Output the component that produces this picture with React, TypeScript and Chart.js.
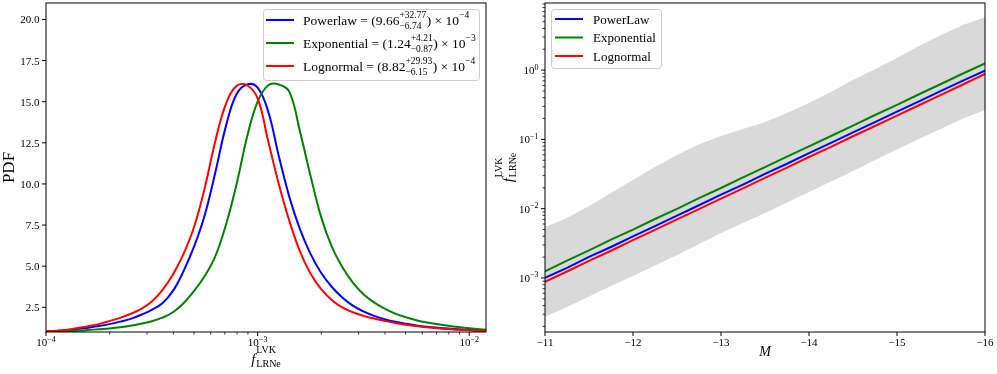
import { useEffect, useRef } from 'react';
import { Chart, registerables } from 'chart.js';

Chart.register(...registerables);

const SERIF = '"Liberation Serif", "Times New Roman", Times, serif';
const BLUE = '#0000ff';
const GREEN = '#008000';
const RED = '#ff0000';
const BAND = '#d9d9d9';

// ---------- Left panel: PDF of f_LRNe (common f grid) ----------
const F_GRID = [
  1.0e-4, 1.122e-4, 1.259e-4, 1.413e-4, 1.585e-4, 1.778e-4, 1.995e-4, 2.239e-4, 2.512e-4, 2.818e-4,
  3.162e-4, 3.548e-4, 3.981e-4, 4.467e-4, 5.012e-4, 5.623e-4, 6.31e-4, 7.079e-4, 7.943e-4, 8.913e-4,
  1.0e-3, 1.122e-3, 1.259e-3, 1.413e-3, 1.585e-3, 1.778e-3, 1.995e-3, 2.239e-3, 2.512e-3, 2.818e-3,
  3.162e-3, 3.548e-3, 3.981e-3, 4.467e-3, 5.012e-3, 5.623e-3, 6.31e-3, 7.079e-3, 7.943e-3, 8.913e-3,
  1.0e-2, 1.122e-2, 1.202e-2,
];
const POWERLAW_PDF = [
  1.03, 1.06, 1.11, 1.18, 1.26, 1.36, 1.48, 1.63, 1.8, 2.05,
  2.35, 2.75, 3.5, 4.7, 6.2, 8.1, 10.7, 13.5, 15.45, 16.05,
  15.85, 14.4, 11.7, 9.2, 7.25, 5.75, 4.6, 3.75, 3.1, 2.6,
  2.25, 1.98, 1.78, 1.62, 1.5, 1.4, 1.32, 1.26, 1.21, 1.16,
  1.12, 1.09, 1.08,
];
const EXPONENTIAL_PDF = [
  1.02, 1.03, 1.05, 1.08, 1.12, 1.17, 1.22, 1.29, 1.38, 1.5,
  1.65, 1.87, 2.2, 2.75, 3.5, 4.4, 5.6, 7.5, 9.95, 12.85,
  15.0, 16.0, 16.05, 15.6, 13.2, 10.5, 8.0, 6.2, 4.95, 4.0,
  3.3, 2.8, 2.42, 2.12, 1.9, 1.72, 1.58, 1.47, 1.38, 1.3,
  1.23, 1.17, 1.13,
];
const LOGNORMAL_PDF = [
  1.04, 1.08, 1.14, 1.24, 1.35, 1.48, 1.66, 1.86, 2.1, 2.4,
  2.85, 3.55, 4.5, 5.75, 7.4, 9.75, 12.6, 14.85, 15.95, 16.0,
  15.2, 12.6, 10.0, 7.75, 5.9, 4.55, 3.6, 2.95, 2.5, 2.2,
  1.98, 1.82, 1.68, 1.55, 1.44, 1.36, 1.29, 1.23, 1.18, 1.14,
  1.1, 1.07, 1.06,
];

const LEFT_Y_TICKS = [2.5, 5.0, 7.5, 10.0, 12.5, 15.0, 17.5, 20.0];
const LEFT_X_EXPONENTS = [-4, -3, -2];
const LEFT_LEGEND_NAMES = ['Powerlaw', 'Exponential', 'Lognormal'];
const LEFT_LEGEND_CENTRAL = ['9.66', '1.24', '8.82'];
const LEFT_LEGEND_PLUS = ['+32.77', '+4.21', '+29.93'];
const LEFT_LEGEND_MINUS = ['\u22126.74', '\u22120.87', '\u22126.15'];
const LEFT_LEGEND_EXP = ['\u22124', '\u22123', '\u22124'];
const LEFT_COLORS = [BLUE, GREEN, RED];

// ---------- Right panel: f_LRNe vs M ----------
const M_GRID = [-11, -11.25, -11.5, -11.75, -12, -12.25, -12.5, -12.75, -13, -13.25, -13.5, -13.75, -14, -14.25, -14.5, -14.75, -15, -15.25, -15.5, -15.75, -16];
const POWERLAW_F = [1.0e-3, 1.4e-3, 2.01e-3, 2.8e-3, 3.99e-3, 5.6e-3, 7.96e-3, 1.12e-2, 1.59e-2, 2.23e-2, 3.17e-2, 4.45e-2, 6.33e-2, 8.88e-2, 0.126, 0.177, 0.251, 0.353, 0.5, 0.703, 0.98];
const EXPONENTIAL_F = [1.25e-3, 1.78e-3, 2.5e-3, 3.57e-3, 4.98e-3, 7.1e-3, 9.95e-3, 1.42e-2, 1.99e-2, 2.83e-2, 3.97e-2, 5.63e-2, 7.93e-2, 0.112, 0.158, 0.225, 0.315, 0.448, 0.63, 0.893, 1.25];
const LOGNORMAL_F = [0.88e-3, 1.24e-3, 1.76e-3, 2.47e-3, 3.51e-3, 4.93e-3, 7.0e-3, 9.85e-3, 1.4e-2, 1.96e-2, 2.79e-2, 3.92e-2, 5.57e-2, 7.82e-2, 0.111, 0.156, 0.221, 0.311, 0.44, 0.62, 0.88];
const BAND_UPPER = [5.43e-3, 7.33e-3, 1.09e-2, 1.68e-2, 2.59e-2, 3.99e-2, 5.94e-2, 8.5e-2, 0.112, 0.141, 0.178, 0.24, 0.334, 0.482, 0.718, 1.03, 1.49, 2.22, 3.2, 4.46, 5.81];
const BAND_LOWER = [2.74e-4, 3.82e-4, 5.41e-4, 7.66e-4, 1.07e-3, 1.51e-3, 2.15e-3, 3.09e-3, 4.46e-3, 6.21e-3, 8.65e-3, 1.23e-2, 1.74e-2, 2.46e-2, 3.49e-2, 5.03e-2, 7.13e-2, 0.101, 0.143, 0.2, 0.265];

const RIGHT_X_TICKS = [-11, -12, -13, -14, -15, -16];
const RIGHT_Y_EXPONENTS = [-3, -2, -1, 0];
const RIGHT_LEGEND_NAMES = ['PowerLaw', 'Exponential', 'Lognormal'];
const RIGHT_COLORS = [BLUE, GREEN, RED];

// ---------- drawing helpers ----------
type Piece = {
  text?: string;
  size: number;
  italic?: boolean;
  dy?: number;
  sup?: string;
  sub?: string;
  supDy?: number;
  subDy?: number;
  gap?: number;
};

const fontOf = (size: number, italic?: boolean) => `${italic ? 'italic ' : ''}${size}px ${SERIF}`;
const minus = (s: string) => s.replace('-', '\u2212');

function pieceWidth(ctx: CanvasRenderingContext2D, p: Piece) {
  ctx.font = fontOf(p.size, p.italic);
  if (p.text !== undefined) return ctx.measureText(p.text).width + (p.gap || 0);
  return Math.max(ctx.measureText(p.sup || '').width, ctx.measureText(p.sub || '').width) + (p.gap || 0);
}

function drawRich(ctx: CanvasRenderingContext2D, pieces: Piece[], x: number, y: number, align: 'left' | 'center' | 'right') {
  const w = pieces.reduce((s, p) => s + pieceWidth(ctx, p), 0);
  let cx = align === 'left' ? x : align === 'center' ? x - w / 2 : x - w;
  ctx.textAlign = 'left';
  ctx.textBaseline = 'alphabetic';
  for (const p of pieces) {
    const pw = pieceWidth(ctx, p);
    ctx.font = fontOf(p.size, p.italic);
    if (p.text !== undefined) {
      ctx.fillText(p.text, cx, y + (p.dy || 0));
    } else {
      ctx.fillText(p.sup || '', cx, y + (p.supDy || 0));
      ctx.fillText(p.sub || '', cx, y + (p.subDy || 0));
    }
    cx += pw;
  }
}

function logMinor(min: number, max: number): number[] {
  const out: number[] = [];
  for (let e = Math.floor(Math.log10(min)); e <= Math.ceil(Math.log10(max)); e++) {
    for (let k = 2; k <= 9; k++) {
      const v = k * Math.pow(10, e);
      if (v >= min && v <= max) out.push(v);
    }
  }
  return out;
}

function roundBox(ctx: CanvasRenderingContext2D, x0: number, y0: number, x1: number, y1: number, r: number) {
  ctx.beginPath();
  ctx.moveTo(x0 + r, y0);
  ctx.lineTo(x1 - r, y0);
  ctx.arcTo(x1, y0, x1, y0 + r, r);
  ctx.lineTo(x1, y1 - r);
  ctx.arcTo(x1, y1, x1 - r, y1, r);
  ctx.lineTo(x0 + r, y1);
  ctx.arcTo(x0, y1, x0, y1 - r, r);
  ctx.lineTo(x0, y0 + r);
  ctx.arcTo(x0, y0, x0 + r, y0, r);
  ctx.closePath();
  ctx.fillStyle = 'rgba(255,255,255,0.8)';
  ctx.fill();
  ctx.strokeStyle = '#cccccc';
  ctx.lineWidth = 1;
  ctx.stroke();
}

function tickLines(ctx: CanvasRenderingContext2D, segs: number[][], width: number) {
  ctx.strokeStyle = '#000';
  ctx.lineWidth = width;
  ctx.beginPath();
  for (const [x0, y0, x1, y1] of segs) {
    ctx.moveTo(x0, y0);
    ctx.lineTo(x1, y1);
  }
  ctx.stroke();
}

function frame(chart: any) {
  const { ctx, chartArea: a } = chart;
  ctx.strokeStyle = '#000';
  ctx.lineWidth = 1;
  ctx.strokeRect(a.left, a.top, a.right - a.left, a.bottom - a.top);
}

const expLabel = (e: number): Piece[] => [
  { text: '10', size: 11 },
  { text: minus(String(e)), size: 8, dy: -4.5 },
];

const fLabel: Piece[] = [
  { text: 'f', size: 15, italic: true, gap: 1 },
  { sup: 'LVK', sub: 'LRNe', size: 10, supDy: -11, subDy: 3 },
];

const leftPlugin = {
  id: 'leftDecor',
  afterDraw(chart: any) {
    const { ctx, chartArea: a } = chart;
    const sx = chart.scales.x;
    const sy = chart.scales.y;
    ctx.save();
    ctx.fillStyle = '#000';
    frame(chart);
    const majors = LEFT_X_EXPONENTS.map((e) => Math.pow(10, e));
    tickLines(ctx, majors.map((v) => { const p = sx.getPixelForValue(v); return [p, a.bottom, p, a.bottom + 4]; }), 1);
    tickLines(ctx, logMinor(sx.min, sx.max).map((v) => { const p = sx.getPixelForValue(v); return [p, a.bottom, p, a.bottom + 2.5]; }), 0.8);
    LEFT_X_EXPONENTS.forEach((e) => {
      drawRich(ctx, expLabel(e), sx.getPixelForValue(Math.pow(10, e)), a.bottom + 14, 'center');
    });
    tickLines(ctx, LEFT_Y_TICKS.map((v) => { const p = sy.getPixelForValue(v); return [a.left - 4, p, a.left, p]; }), 1);
    LEFT_Y_TICKS.forEach((v) => {
      drawRich(ctx, [{ text: v.toFixed(1), size: 11 }], a.left - 6.5, sy.getPixelForValue(v) + 4, 'right');
    });
    ctx.save();
    ctx.translate(9.5, (a.top + a.bottom) / 2);
    ctx.rotate(-Math.PI / 2);
    ctx.font = fontOf(17);
    ctx.textAlign = 'center';
    ctx.textBaseline = 'middle';
    ctx.fillText('PDF', 0, 0);
    ctx.restore();
    drawRich(ctx, fLabel, (a.left + a.right) / 2, 364, 'center');
    roundBox(ctx, 263.5, 9.5, 479.5, 80.5, 3);
    LEFT_LEGEND_NAMES.forEach((name, i) => {
      const y = 20 + i * 23;
      ctx.strokeStyle = LEFT_COLORS[i];
      ctx.lineWidth = 2;
      ctx.beginPath();
      ctx.moveTo(266, y);
      ctx.lineTo(294, y);
      ctx.stroke();
      ctx.fillStyle = '#000';
      drawRich(ctx, [
        { text: `${name} = (${LEFT_LEGEND_CENTRAL[i]}`, size: 13.5 },
        { sup: LEFT_LEGEND_PLUS[i], sub: LEFT_LEGEND_MINUS[i], size: 9.5, supDy: -6.5, subDy: 4, gap: 0.5 },
        { text: ') \u00d7 10', size: 13.5 },
        { text: LEFT_LEGEND_EXP[i], size: 9.5, dy: -6.5 },
      ], 303, y + 4.5, 'left');
    });
    ctx.restore();
  },
};

const rightPlugin = {
  id: 'rightDecor',
  afterDraw(chart: any) {
    const { ctx, chartArea: a } = chart;
    const sx = chart.scales.x;
    const sy = chart.scales.y;
    ctx.save();
    ctx.fillStyle = '#000';
    frame(chart);
    tickLines(ctx, RIGHT_X_TICKS.map((v) => { const p = sx.getPixelForValue(v); return [p, a.bottom, p, a.bottom + 4]; }), 1);
    RIGHT_X_TICKS.forEach((v) => {
      drawRich(ctx, [{ text: minus(String(v)), size: 11 }], sx.getPixelForValue(v), a.bottom + 14, 'center');
    });
    const majors = RIGHT_Y_EXPONENTS.map((e) => Math.pow(10, e));
    tickLines(ctx, majors.map((v) => { const p = sy.getPixelForValue(v); return [a.left - 4, p, a.left, p]; }), 1);
    tickLines(ctx, logMinor(sy.min, sy.max).map((v) => { const p = sy.getPixelForValue(v); return [a.left - 2.5, p, a.left, p]; }), 0.8);
    RIGHT_Y_EXPONENTS.forEach((e) => {
      drawRich(ctx, expLabel(e), a.left - 6.5, sy.getPixelForValue(Math.pow(10, e)) + 4, 'right');
    });
    ctx.save();
    ctx.translate(19, (a.top + a.bottom) / 2);
    ctx.rotate(-Math.PI / 2);
    drawRich(ctx, fLabel, 0, 4, 'center');
    ctx.restore();
    drawRich(ctx, [{ text: 'M', size: 14, italic: true }], (a.left + a.right) / 2, 356, 'center');
    roundBox(ctx, 61.5, 9.5, 171.5, 68.5, 3);
    RIGHT_LEGEND_NAMES.forEach((name, i) => {
      const y = 19 + i * 18.5;
      ctx.strokeStyle = RIGHT_COLORS[i];
      ctx.lineWidth = 2;
      ctx.beginPath();
      ctx.moveTo(65, y);
      ctx.lineTo(93, y);
      ctx.stroke();
      ctx.fillStyle = '#000';
      drawRich(ctx, [{ text: name, size: 13 }], 103, y + 4.5, 'left');
    });
    ctx.restore();
  },
};

const pts = (xs: number[], ys: number[]) => xs.map((x, i) => ({ x, y: ys[i] }));

function leftConfig(): any {
  const line = (label: string, ys: number[], color: string) => ({
    label,
    data: pts(F_GRID, ys),
    borderColor: color,
    borderWidth: 2,
    pointRadius: 0,
    fill: false,
    tension: 0.4,
  });
  return {
    type: 'line',
    data: {
      datasets: [
        line('Lognormal', LOGNORMAL_PDF, RED),
        line('Exponential', EXPONENTIAL_PDF, GREEN),
        line('Powerlaw', POWERLAW_PDF, BLUE),
      ],
    },
    options: {
      animation: false,
      responsive: false,
      events: [],
      layout: { padding: { left: 46, top: 3, right: 11, bottom: 42 } },
      scales: {
        x: { type: 'logarithmic', min: 1e-4, max: 1.2e-2, display: false },
        y: { type: 'linear', min: 1, max: 21, display: false },
      },
      plugins: { legend: { display: false }, tooltip: { enabled: false } },
    },
    plugins: [leftPlugin],
  };
}

function rightConfig(): any {
  const line = (label: string, ys: number[], color: string) => ({
    label,
    data: pts(M_GRID, ys),
    borderColor: color,
    borderWidth: 2,
    pointRadius: 0,
    fill: false,
    tension: 0,
  });
  return {
    type: 'line',
    data: {
      datasets: [
        line('Lognormal', LOGNORMAL_F, RED),
        line('PowerLaw', POWERLAW_F, BLUE),
        line('Exponential', EXPONENTIAL_F, GREEN),
        {
          label: 'band upper',
          data: pts(M_GRID, BAND_UPPER),
          borderWidth: 0,
          borderColor: 'rgba(0,0,0,0)',
          backgroundColor: BAND,
          pointRadius: 0,
          fill: '+1',
          tension: 0,
        },
        {
          label: 'band lower',
          data: pts(M_GRID, BAND_LOWER),
          borderWidth: 0,
          borderColor: 'rgba(0,0,0,0)',
          pointRadius: 0,
          fill: false,
          tension: 0,
        },
      ],
    },
    options: {
      animation: false,
      responsive: false,
      events: [],
      layout: { padding: { left: 55, top: 3, right: 12, bottom: 42 } },
      scales: {
        x: { type: 'linear', min: -16, max: -11, reverse: true, display: false },
        y: { type: 'logarithmic', min: 1.66e-4, max: 9.3, display: false },
      },
      plugins: {
        legend: { display: false },
        tooltip: { enabled: false },
        filler: { drawTime: 'beforeDatasetsDraw' },
      },
    },
    plugins: [rightPlugin],
  };
}

export default function App() {
  const leftRef = useRef<HTMLCanvasElement>(null);
  const rightRef = useRef<HTMLCanvasElement>(null);
  useEffect(() => {
    const left = new Chart(leftRef.current as HTMLCanvasElement, leftConfig());
    const right = new Chart(rightRef.current as HTMLCanvasElement, rightConfig());
    return () => {
      left.destroy();
      right.destroy();
    };
  }, []);
  return (
    <div style={{ position: 'absolute', left: 0, top: 0, width: 997, height: 374, background: '#fff', overflow: 'hidden' }}>
      <canvas ref={leftRef} width={497} height={374} style={{ position: 'absolute', left: 0, top: 0, width: 497, height: 374 }} />
      <canvas ref={rightRef} width={507} height={374} style={{ position: 'absolute', left: 490, top: 0, width: 507, height: 374 }} />
    </div>
  );
}
